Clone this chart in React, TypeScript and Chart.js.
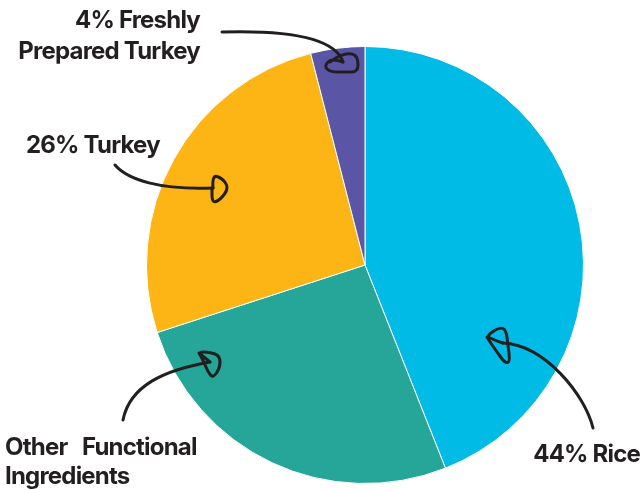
import React, { useEffect, useRef } from "react";
import { Chart, registerables } from "chart.js";

Chart.register(...registerables);

const categories = ["Rice", "Other Functional Ingredients", "Turkey", "Freshly Prepared Turkey"];
const values = [44, 26, 26, 4];
const colors = ["#00BBE6", "#26A599", "#FDB515", "#5A56A5"];
const labelLines = [["44% Rice"], ["Other   Functional", "Ingredients"], ["26% Turkey"], ["4% Freshly", "Prepared Turkey"]];

// annotation layout (canvas px): text anchor + hand-drawn arrow paths
const annotations = [
  {
    text: { x: 640, y: 462, align: "right" as CanvasTextAlign, lh: 30 },
    curve: [[593, 428], [585, 395], [545, 345], [503, 343]],
    head: [[503, 343], [494, 340], [486, 336], [500, 327], [506, 330], [508, 345], [510, 362], [505, 363], [497, 352], [490, 342], [487, 337]],
  },
  {
    text: { x: 5, y: 455, align: "left" as CanvasTextAlign, lh: 29 },
    curve: [[123, 420], [130, 385], [165, 370], [210, 362]],
    head: [[210, 362], [205, 358], [198, 352], [210, 352], [220, 356], [220, 368], [213, 378], [208, 372], [203, 360], [199, 353]],
  },
  {
    text: { x: 26, y: 153, align: "left" as CanvasTextAlign, lh: 30 },
    curve: [[115, 165], [128, 180], [160, 190], [213, 188]],
    head: [[213, 188], [212, 175], [222, 178], [229, 188], [220, 200], [212, 203], [212, 188]],
  },
  {
    text: { x: 200, y: 28, align: "right" as CanvasTextAlign, lh: 31 },
    curve: [[222, 32], [290, 30], [335, 38], [343, 62]],
    head: [[343, 62], [332, 58], [324, 66], [330, 72], [345, 72], [358, 72], [358, 58], [352, 53], [340, 55], [330, 62]],
  },
];

const annotationPlugin = {
  id: "handArrows",
  afterDraw(chart: Chart) {
    const ctx = chart.ctx as any;
    ctx.save();
    ctx.strokeStyle = "#231F20";
    ctx.fillStyle = "#231F20";
    ctx.lineWidth = 3;
    ctx.lineCap = "round";
    ctx.lineJoin = "round";
    annotations.forEach((a, i) => {
      const c = a.curve;
      ctx.beginPath();
      ctx.moveTo(c[0][0], c[0][1]);
      ctx.bezierCurveTo(c[1][0], c[1][1], c[2][0], c[2][1], c[3][0], c[3][1]);
      ctx.stroke();
      const h = a.head;
      ctx.beginPath();
      ctx.moveTo(h[0][0], h[0][1]);
      for (let k = 1; k < h.length - 1; k++) {
        const mx = (h[k][0] + h[k + 1][0]) / 2;
        const my = (h[k][1] + h[k + 1][1]) / 2;
        ctx.quadraticCurveTo(h[k][0], h[k][1], mx, my);
      }
      ctx.lineTo(h[h.length - 1][0], h[h.length - 1][1]);
      ctx.stroke();
      ctx.font = "700 24px Inter, 'Noto Sans', sans-serif";
      ctx.letterSpacing = "-0.8px";
      ctx.textAlign = a.text.align;
      ctx.textBaseline = "alphabetic";
      labelLines[i].forEach((ln, j) => {
        ctx.fillText(ln, a.text.x, a.text.y + j * a.text.lh);
      });
    });
    ctx.restore();
  },
};

export default function App() {
  const ref = useRef<HTMLCanvasElement>(null);
  useEffect(() => {
    if (!ref.current) return;
    const chart = new Chart(ref.current, {
      type: "pie",
      data: {
        labels: categories,
        datasets: [
          {
            data: values,
            backgroundColor: colors,
            borderColor: "#ffffff",
            borderWidth: 1,
          },
        ],
      },
      options: {
        responsive: false,
        animation: false,
        layout: { padding: { left: 146, right: 59, top: 46, bottom: 6 } },
        plugins: { legend: { display: false }, tooltip: { enabled: false } },
      },
      plugins: [annotationPlugin],
    });
    return () => chart.destroy();
  }, []);
  return (
    <div style={{ position: "absolute", left: 0, top: 0, width: 643, height: 490, background: "#fff" }}>
      <canvas ref={ref} width={643} height={490} />
    </div>
  );
}
